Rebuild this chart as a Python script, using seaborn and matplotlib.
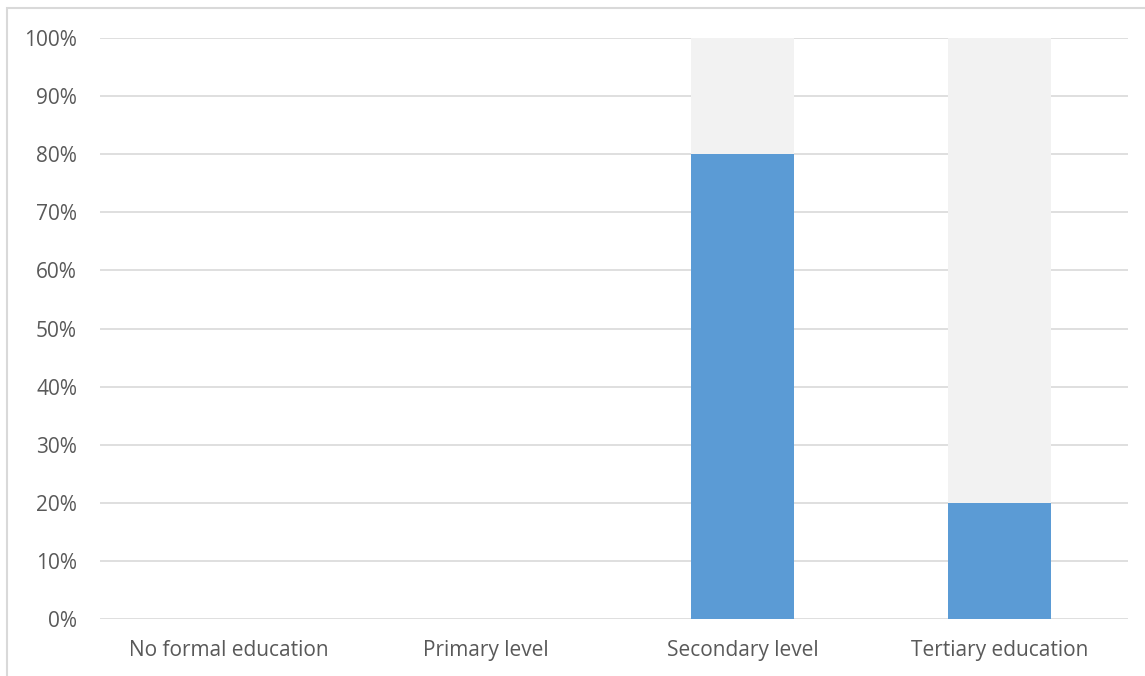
import matplotlib
matplotlib.use("Agg")
import matplotlib.pyplot as plt
import matplotlib.patches as mpatches
from matplotlib.ticker import MultipleLocator, FuncFormatter
import seaborn as sns
import pandas as pd

categories = ["No formal education", "Primary level", "Secondary level", "Tertiary education"]
share_yes = [0, 0, 80, 20]
share_no = [0, 0, 20, 80]

sns.set_theme(style="white")
plt.rcParams["font.family"] = ["Open Sans", "DejaVu Sans"]

df = pd.DataFrame({
    "category": categories,
    "yes": share_yes,
    "total": [a + b for a, b in zip(share_yes, share_no)],
})

fig = plt.figure(figsize=(11.45, 6.76), dpi=100)
ax = fig.add_axes([0.0873, 0.0843, 0.8978, 0.8595])

# stacked bars: full column in light gray, lower segment in blue on top
sns.barplot(data=df, x="category", y="total", color="#F2F2F2", width=0.4,
            saturation=1, linewidth=0, ax=ax, zorder=2)
sns.barplot(data=df, x="category", y="yes", color="#5B9BD5", width=0.4,
            saturation=1, linewidth=0, ax=ax, zorder=3)

ax.set_ylim(0, 100)
ax.set_xlim(-0.5, len(categories) - 0.5)
ax.yaxis.set_major_locator(MultipleLocator(10))
ax.yaxis.set_major_formatter(FuncFormatter(lambda v, p: f"{v:.0f}%"))
ax.yaxis.grid(True, color="#D9D9D9", linewidth=1.2, zorder=0)
ax.set_axisbelow(True)
for s in ax.spines.values():
    s.set_visible(False)
ax.set_xlabel("")
ax.set_ylabel("")
ax.tick_params(axis="both", length=0, labelsize=15, labelcolor="#595959")
ax.tick_params(axis="y", pad=16.5)
ax.tick_params(axis="x", pad=15)

# chart frame
fig.patches.append(mpatches.Rectangle((7 / 1145, -0.05), 1.1, 1 - 8 / 676 + 0.05,
                                      transform=fig.transFigure, fill=False,
                                      edgecolor="#D9D9D9", linewidth=1.5))

fig.savefig("out.png", dpi=100, facecolor="white")
